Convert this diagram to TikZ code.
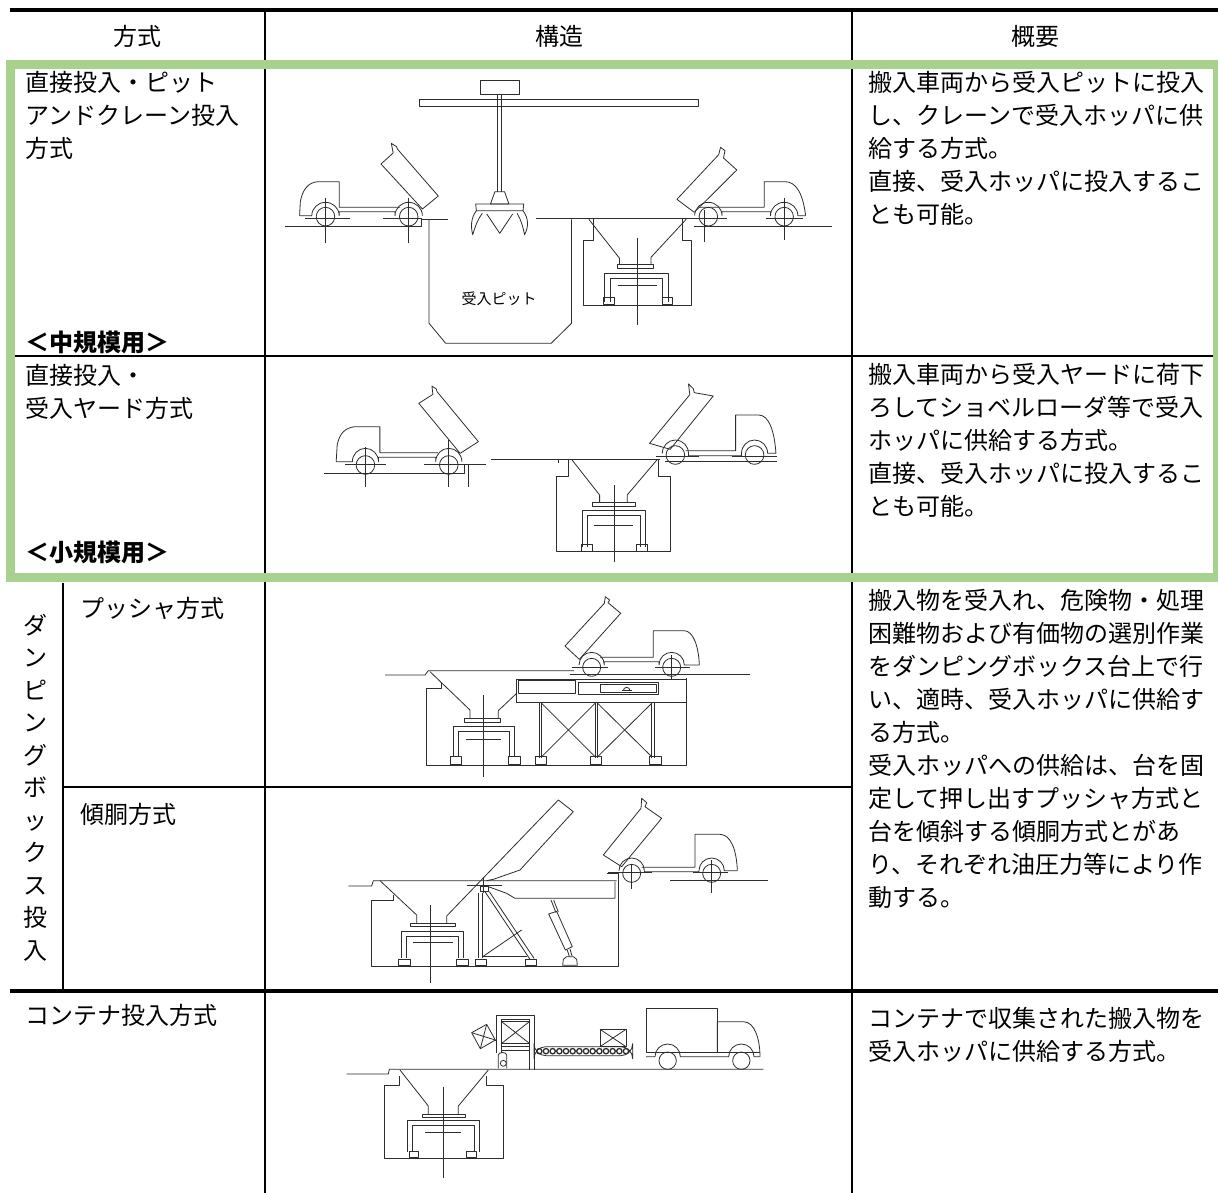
\documentclass[tikz,border=0pt]{standalone}
\usepackage{fontspec}
\newfontfamily\jp{Noto Sans CJK JP}
\definecolor{grn}{RGB}{169,209,142}
\definecolor{ink}{RGB}{45,45,45}
\newcommand\jpf{\jp\fontsize{24}{33}\selectfont}
\newcommand\tb[1]{\parbox[t]{420pt}{\raggedright #1}}
\tikzset{
  ln/.style={draw=ink, line width=0.8pt, line join=round},
  cl/.style={draw=ink, line width=0.6pt},
  rulel/.style={draw=black, line width=2pt},
  hrule/.style={draw=black, line width=3.5pt},
  txt/.style={font=\jpf, inner sep=0pt, anchor=base west},
  hd/.style={font=\jpf, inner sep=0pt, anchor=base},
}
\begin{document}
\begin{tikzpicture}[x=1pt,y=-1pt]
\useasboundingbox (0,0) rectangle (1218,1193);
\fill[white] (0,0) rectangle (1218,1193);

% ---------------- table rules ----------------
\draw[hrule] (10,10) -- (1218,10);
\draw[rulel] (265,10) -- (265,1193);
\draw[rulel] (852,10) -- (852,1193);
\draw[rulel] (12,356) -- (1214,356);
\draw[rulel] (63,583) -- (63,991);
\draw[rulel] (63,787) -- (852,787);
\draw[hrule] (10,991) -- (1218,991);

% ---------------- header ----------------
\node[hd] (h1) at (137,46) {方式};
\node[hd] (h2) at (559,46) {構造};
\node[hd] (h3) at (1035,46) {概要};

% ---------------- left column texts ----------------
\node[txt] (l1) at (25,92) {\tb{直接投入・ピット\\アンドクレーン投入\\方式}};
\node[txt] (l1b) at (25,351) {\textbf{＜中規模用＞}};
\node[txt] (l2) at (25,384) {\tb{直接投入・\\受入ヤード方式}};
\node[txt] (l2b) at (25,561) {\textbf{＜小規模用＞}};
\node[font=\jp\fontsize{24}{32.5}\selectfont, inner sep=0pt, anchor=base] (lv) at (36,634)
  {\parbox[t]{26pt}{\centering ダ\\ン\\ピ\\ン\\グ\\ボ\\ッ\\ク\\ス\\投\\入}};
\node[txt] (l3) at (80,617) {プッシャ方式};
\node[txt] (l4) at (80,823) {傾胴方式};
\node[txt] (l5) at (25,1024) {コンテナ投入方式};

% ---------------- right column texts ----------------
\node[txt] (r1) at (868,92) {\tb{搬入車両から受入ピットに投入\\し、クレーンで受入ホッパに供\\給する方式。\\直接、受入ホッパに投入するこ\\とも可能。}};
\node[txt] (r2) at (868,383) {\tb{搬入車両から受入ヤードに荷下\\ろしてショベルローダ等で受入\\ホッパに供給する方式。\\直接、受入ホッパに投入するこ\\とも可能。}};
\node[txt] (r3) at (868,609) {\tb{搬入物を受入れ、危険物・処理\\困難物および有価物の選別作業\\をダンピングボックス台上で行\\い、適時、受入ホッパに供給す\\る方式。\\受入ホッパへの供給は、台を固\\定して押し出すプッシャ方式と\\台を傾斜する傾胴方式とがあ\\り、それぞれ油圧力等により作\\動する。}};
\node[txt] (r5) at (868,1027) {\tb{コンテナで収集された搬入物を\\受入ホッパに供給する方式。}};

% ================= drawing 1 : pit and crane =================
\begin{scope}[shift={(270,60)},xscale=0.36990,yscale=0.33333]
  % crane
  \draw[ln] (570,62) rectangle (675,102);
  \draw[ln] (403,118) rectangle (1158,138);
  \draw[ln] (616,102) -- (616,395) (626,102) -- (626,395);
  \draw[ln] (608,395) -- (634,395) -- (646,432) -- (596,432) -- cycle;
  \draw[ln] (556,432) -- (686,432) -- (684,452) -- (558,452) -- cycle;
  \draw[ln] (558,452) .. controls (542,475) and (543,503) .. (548,524) .. controls (555,500) and (561,478) .. (574,460);
  \draw[ln] (684,452) .. controls (700,475) and (699,503) .. (688,524) .. controls (684,500) and (678,478) .. (668,460);
  \draw[ln] (586,462) -- (621,520) -- (656,462);
  % left truck
  \draw[ln] (80,467) -- (82,425) .. controls (88,390) and (102,367) .. (130,365) -- (187,365) -- (187,442) -- (352,442);
  \draw[ln] (80,467) -- (113,467) arc[start angle=180,end angle=360,x radius=37,y radius=40] -- (187,455) -- (338,455) -- (338,467) arc[start angle=180,end angle=360,x radius=37,y radius=40];
  \draw[ln] (150,470) circle[x radius=25,y radius=28];
  \draw[ln] (375,470) circle[x radius=25,y radius=28];
  \draw[cl] (150,415) -- (150,550) (375,415) -- (375,550);
  \draw[cl] (95,475) -- (215,475) (305,475) -- (410,475);
  \draw[ln] (300,312) -- (333,279) -- (328,250) -- (342,260) -- (345,268) -- (455,408) -- (412,447) -- cycle;
  % ground and pit
  \draw[ln] (40,500) -- (408,500) -- (408,478) -- (480,478);
  \draw[ln] (430,480) -- (430,790) -- (475,850) -- (760,850) -- (815,790) -- (815,478);
  \draw[ln] (720,475) -- (1235,475);
  \draw[ln] (1145,500) -- (1520,500);
  % hopper
  \draw[ln] (875,478) -- (875,540) -- (848,540) -- (848,735) -- (1140,735) -- (1140,540) -- (1115,540) -- (1115,478);
  \draw[ln] (862,478) -- (945,595) -- (945,612);
  \draw[ln] (1125,478) -- (1030,592) -- (1030,612);
  \draw[ln] (938,612) rectangle (1037,625);
  \draw[ln] (905,725) -- (905,640) -- (1077,640) -- (1077,725);
  \draw[ln] (920,725) -- (920,655) -- (1062,655) -- (1062,725);
  \draw[ln] (940,676) -- (1045,676);
  \draw[ln] (902,712) rectangle (930,733);
  \draw[ln] (1060,712) rectangle (1088,733);
  \draw[cl] (992,535) -- (992,795);
  % right truck
  \draw[ln] (1100,418) -- (1213,284) -- (1218,262) -- (1230,272) -- (1226,294) -- (1262,330) -- (1147,457) -- cycle;
  \draw[ln] (1160,442) -- (1336,442) -- (1336,365) -- (1392,365) .. controls (1420,365) and (1440,395) .. (1448,467);
  \draw[ln] (1448,467) -- (1427,467) arc[start angle=360,end angle=180,x radius=37,y radius=40] -- (1353,455) -- (1222,455) -- (1222,467) arc[start angle=360,end angle=180,x radius=37,y radius=40];
  \draw[ln] (1185,470) circle[x radius=25,y radius=28];
  \draw[ln] (1390,470) circle[x radius=25,y radius=28];
  \draw[cl] (1175,450) -- (1175,545) (1390,415) -- (1390,540);
  \draw[cl] (1140,475) -- (1230,475) (1340,475) -- (1440,475);
\end{scope}
\node[font=\jp\fontsize{15}{18}\selectfont, inner sep=0pt, anchor=base] (pitlbl) at (499,304) {受入ピット};

% ================= drawing 2 : receiving yard =================
\begin{scope}[shift={(300,360)},xscale=0.34438,yscale=0.33333]
  % left truck
  \draw[ln] (105,305) -- (108,255) .. controls (114,222) and (130,203) .. (160,200) -- (232,200) -- (232,278) -- (400,278);
  \draw[ln] (105,305) -- (152,305) arc[start angle=180,end angle=360,x radius=38,y radius=40] -- (228,292) -- (394,292) -- (394,305) arc[start angle=180,end angle=360,x radius=38,y radius=40];
  \draw[ln] (190,315) circle[x radius=27,y radius=28];
  \draw[ln] (432,315) circle[x radius=27,y radius=28];
  \draw[cl] (190,262) -- (190,380) (432,240) -- (432,380);
  \draw[cl] (130,312) -- (250,312) (360,312) -- (480,312);
  \draw[ln] (345,130) -- (386,103) -- (383,78) -- (396,87) -- (398,95) -- (518,245) -- (465,280) -- cycle;
  % ground
  \draw[ln] (70,340) -- (478,340) -- (478,312) -- (540,312);
  \draw[ln] (490,315) -- (490,380);
  \draw[ln] (555,298) -- (1045,298);
  \draw[ln] (750,298) -- (750,310);
  % hopper
  \draw[ln] (778,300) -- (778,350) -- (745,350) -- (745,575) -- (1075,575) -- (1075,350) -- (1040,350) -- (1040,300);
  \draw[ln] (790,300) -- (870,405) -- (870,428);
  \draw[ln] (1038,298) -- (950,405) -- (950,428);
  \draw[ln] (850,428) rectangle (975,440);
  \draw[ln] (820,560) -- (820,450) -- (1002,450) -- (1002,560);
  \draw[ln] (835,560) -- (835,465) -- (987,465) -- (987,560);
  \draw[ln] (855,495) -- (968,495);
  \draw[ln] (817,553) rectangle (848,575);
  \draw[ln] (978,553) rectangle (1008,575);
  \draw[cl] (912,375) -- (912,605);
  % right truck
  \draw[ln] (1015,250) -- (1132,104) -- (1128,72) -- (1142,86) -- (1145,98) -- (1200,108) -- (1075,268) -- cycle;
  \draw[ln] (1120,272) -- (1265,272) -- (1265,165) -- (1332,165) .. controls (1362,165) and (1378,215) .. (1382,280);
  \draw[ln] (1382,280) -- (1358,280) arc[start angle=360,end angle=180,x radius=38,y radius=40] -- (1282,287) -- (1128,287) -- (1128,280) arc[start angle=360,end angle=180,x radius=38,y radius=40];
  \draw[ln] (1090,285) circle[x radius=27,y radius=28];
  \draw[ln] (1320,285) circle[x radius=27,y radius=28];
  \draw[cl] (1035,290) -- (1160,290) (1255,290) -- (1385,290);
  \draw[ln] (1060,305) -- (1385,305);
\end{scope}

% ================= drawing 3 : pusher =================
\begin{scope}[shift={(370,580)},scale=0.33333]
  \draw[ln] (45,285) -- (165,285) -- (175,272) -- (612,272);
  \draw[ln] (600,282) -- (1140,282);
  \draw[ln] (180,275) -- (300,390) -- (300,415);
  \draw[ln] (215,310) -- (215,325) -- (170,325) -- (170,555) -- (950,555) -- (950,295);
  \draw[ln] (440,340) -- (385,392) -- (385,415);
  \draw[ln] (282,415) rectangle (392,428);
  \draw[ln] (250,530) -- (250,440) -- (432,440) -- (432,530);
  \draw[ln] (265,530) -- (265,455) -- (417,455) -- (417,530);
  \draw[ln] (288,478) -- (392,478);
  \foreach \fx in {240,415,495,660,838} \draw[ln] (\fx,530) rectangle ++(35,22);
  \draw[cl] (340,345) -- (340,590);
  % platform
  \draw[ln] (440,297) rectangle (950,368);
  \draw[ln] (445,300) rectangle (615,340);
  \draw[ln] (625,306) rectangle (865,342);
  \draw[ln] (690,313) rectangle (860,338);
  \draw[ln] (760,332) arc[start angle=180,end angle=360,radius=10];
  \draw[ln] (755,332) -- (785,332);
  % posts and braces
  \foreach \px in {507,675,845} \draw[ln] (\px,368) -- (\px,535) (\px+8,368) -- (\px+8,535);
  \draw[ln] (515,370) -- (675,530) (675,370) -- (515,530);
  \draw[ln] (683,370) -- (845,530) (845,370) -- (683,530);
  % truck
  \draw[ln] (585,198) -- (703,70) -- (706,50) -- (719,60) -- (714,68) -- (752,100) -- (628,238) -- cycle;
  \draw[ln] (690,232) -- (850,232) -- (850,152) -- (942,152) .. controls (970,152) and (986,200) .. (988,255);
  \draw[ln] (988,255) -- (943,255) arc[start angle=360,end angle=180,radius=38] -- (867,245) -- (703,245) -- (703,255) arc[start angle=360,end angle=180,radius=38];
  \draw[ln] (665,262) circle[radius=27];
  \draw[ln] (905,262) circle[radius=27];
  \draw[cl] (605,262) -- (715,262) (855,262) -- (960,262);
  \draw[cl] (905,225) -- (905,300);
\end{scope}

% ================= drawing 4 : tilting =================
\begin{scope}[shift={(340,790)},scale=0.33333]
  \draw[ln] (25,288) -- (95,288) -- (100,272) -- (830,272);
  \draw[ln] (990,270) -- (1285,270);
  \draw[ln] (800,250) -- (835,250) -- (835,528) -- (95,528) -- (95,330) -- (160,330) -- (160,315);
  \draw[ln] (120,272) -- (230,375) -- (230,400);
  % tilting box
  \draw[ln] (320,400) -- (320,378) -- (655,30) -- (700,65) -- (540,240) -- (460,268) -- (440,272);
  \draw[ln] (445,290) -- (500,310) -- (525,325) -- (825,325) -- (825,275);
  \draw[ln] (210,400) rectangle (345,410);
  \draw[ln] (185,505) -- (185,425) -- (370,425) -- (370,505);
  \draw[ln] (200,505) -- (200,440) -- (355,440) -- (355,505);
  \draw[ln] (220,458) -- (340,458);
  \foreach \fx in {175,350,405,555} \draw[ln] (\fx,508) rectangle ++(35,18);
  \draw[cl] (272,345) -- (272,580);
  % pivot and A-frame
  \draw[cl] (380,285) -- (485,285) (430,262) -- (430,310);
  \draw[ln] (420,290) rectangle (445,305);
  \draw[ln] (415,308) -- (415,505) (428,308) -- (428,505);
  \draw[ln] (435,305) -- (570,508) (448,305) -- (582,505);
  \draw[ln] (428,500) -- (545,420);
  \draw[ln] (428,500) -- (560,500);
  % cylinder
  \draw[ln] (633,330) -- (648,368) (641,330) -- (655,366);
  \draw[ln] (626,372) -- (650,364) -- (697,470) -- (676,480) -- cycle;
  \draw[ln] (682,480) -- (688,500) (690,477) -- (696,498);
  \draw[ln] (668,526) -- (670,508) -- (680,500) -- (700,500) -- (710,508) -- (712,526) -- cycle;
  % truck
  \draw[ln] (790,195) -- (903,55) -- (905,25) -- (920,38) -- (915,50) -- (965,85) -- (845,230) -- cycle;
  \draw[ln] (905,232) -- (1065,232) -- (1065,133) -- (1140,133) .. controls (1172,133) and (1190,180) .. (1192,242);
  \draw[ln] (1192,242) -- (1153,242) arc[start angle=360,end angle=180,radius=38] -- (1077,245) -- (913,245) -- (913,242) arc[start angle=360,end angle=180,radius=38];
  \draw[ln] (875,250) circle[radius=27];
  \draw[ln] (1115,250) circle[radius=27];
  \draw[cl] (875,225) -- (875,298) (1115,210) -- (1115,310);
  \draw[cl] (805,248) -- (935,248) (1060,248) -- (1165,248);
\end{scope}

% ================= drawing 5 : container =================
\begin{scope}[shift={(330,990)},scale=0.33333]
  \draw[ln] (50,252) -- (175,252) -- (178,238) -- (1300,238);
  \draw[ln] (208,258) -- (208,285) -- (163,285) -- (163,505) -- (520,505) -- (520,285) -- (468,285) -- (468,258);
  \draw[ln] (210,240) -- (295,348) -- (295,372);
  \draw[ln] (475,240) -- (385,348) -- (385,372);
  \draw[ln] (278,372) rectangle (405,382);
  \draw[ln] (233,487) -- (233,392) -- (447,392) -- (447,487);
  \draw[ln] (248,487) -- (248,407) -- (432,407) -- (432,487);
  \draw[ln] (285,428) -- (392,428);
  \draw[ln] (238,485) rectangle (266,503);
  \draw[ln] (410,485) rectangle (440,503);
  \draw[cl] (340,290) -- (340,565);
  % tipper tower
  \draw[ln] (500,190) -- (500,75) -- (612,75) -- (612,240);
  \draw[ln] (515,190) -- (515,88) -- (598,88) -- (598,240);
  \draw[ln] (515,95) rectangle (598,160);
  \draw[ln] (515,95) -- (598,160) (598,95) -- (515,160);
  \draw[ln] (515,170) -- (598,170) (515,180) -- (598,180);
  \draw[ln] (505,235) -- (505,195) .. controls (505,185) and (530,185) .. (530,195) -- (530,235);
  \draw[ln] (520,220) circle[radius=9];
  \draw[ln] (425,128) -- (470,103) -- (496,150) -- (451,176) -- cycle;
  \draw[ln] (425,128) -- (496,150) (470,103) -- (451,176);
  \draw[ln] (496,150) -- (500,150);
  % conveyor
  \draw[ln, rounded corners=12] (612,170) rectangle (908,197);
  \foreach \cx in {628,648,...,888} \draw[line width=1.3pt, draw=ink] (\cx,183.5) circle[radius=8];
  \draw[ln] (810,118) rectangle (888,170);
  \draw[ln] (810,118) -- (888,170) (888,118) -- (810,170);
  % truck
  \draw[ln] (948,55) rectangle (1162,188);
  \draw[ln] (1162,188) -- (1162,95) -- (1240,95) .. controls (1275,95) and (1290,150) .. (1290,200);
  \draw[ln] (1290,200) -- (1272,200) arc[start angle=360,end angle=180,radius=38] -- (1196,200) -- (1051,200) arc[start angle=360,end angle=180,radius=38] -- (948,200);
  \draw[ln] (1162,188) -- (1290,188);
  \draw[ln] (1013,212) circle[radius=26];
  \draw[ln] (1234,212) circle[radius=26];
\end{scope}

% ---------------- green frame ----------------
\draw[grn, line width=9pt] (10.5,64.5) rectangle (1217,577.5);
\end{tikzpicture}
\end{document}
